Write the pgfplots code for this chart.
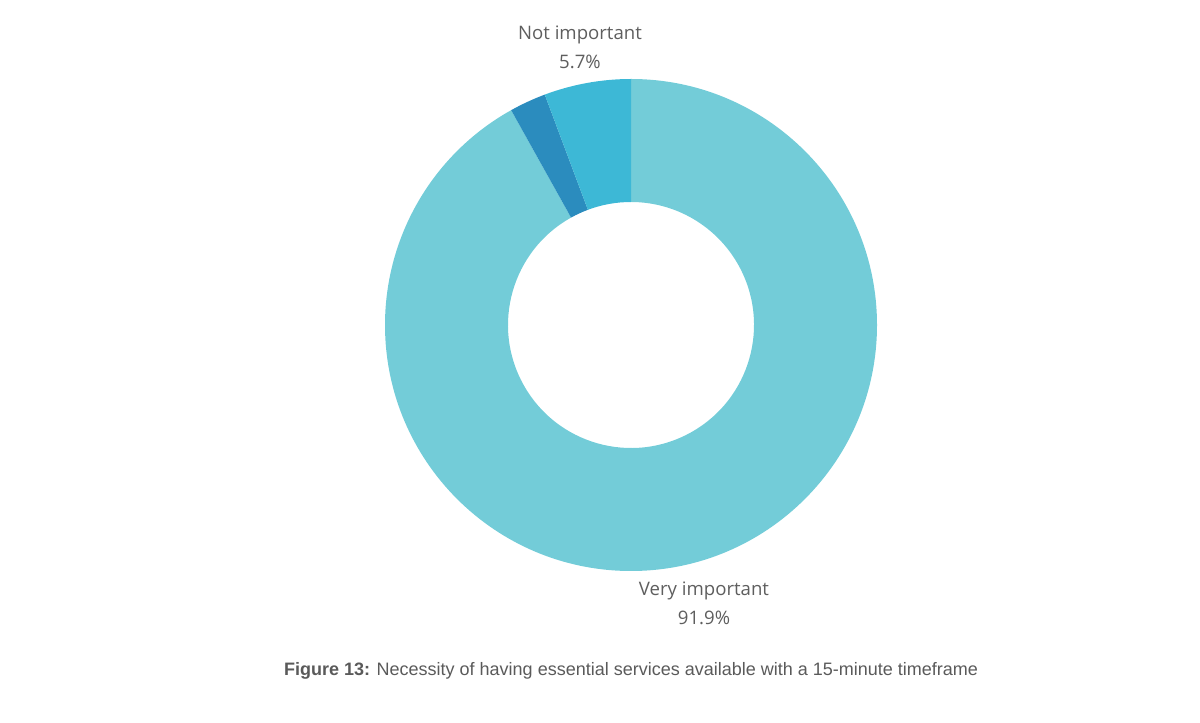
\documentclass[border=0pt]{standalone}
\usepackage{pgfplots}
\pgfplotsset{compat=1.18}
\usepackage{pgfplotstable}
\usepackage{fontspec}
\setmainfont{Open Sans}
\newfontfamily\capfont{Liberation Sans}
\definecolor{cVery}{HTML}{73CCD8}
\definecolor{cMid}{HTML}{2B8CBE}
\definecolor{cNot}{HTML}{3DB8D6}
\definecolor{txt}{HTML}{5E5E5E}
\definecolor{captxt}{HTML}{5A5A5A}
\pgfplotstableread[col sep=comma]{
label,value
Very important,91.9
Other,2.4
Not important,5.7
}\donutdata
\begin{document}
\begin{tikzpicture}
\begin{axis}[
  scale only axis, width=1200pt, height=723pt,
  xmin=0, xmax=1200, ymin=0, ymax=723,
  hide axis, clip=false]
\path (rel axis cs:0,0) rectangle (rel axis cs:1,1);
\pgfplotstablegetelem{0}{value}\of\donutdata \let\vA\pgfplotsretval
\pgfplotstablegetelem{1}{value}\of\donutdata \let\vB\pgfplotsretval
\pgfplotstablegetelem{2}{value}\of\donutdata \let\vC\pgfplotsretval
\pgfmathsetmacro\aA{90}
\pgfmathsetmacro\aB{90-3.6*\vA}
\pgfmathsetmacro\aC{\aB-3.6*\vB}
\pgfmathsetmacro\aD{\aC-3.6*\vC}
\fill[cVery,shift={(axis cs:631,398)}] (\aA:246pt) arc[start angle=\aA,end angle=\aB,radius=246pt] -- (\aB:123pt) arc[start angle=\aB,end angle=\aA,radius=123pt] -- cycle;
\fill[cMid,shift={(axis cs:631,398)}] (\aB:246pt) arc[start angle=\aB,end angle=\aC,radius=246pt] -- (\aC:123pt) arc[start angle=\aC,end angle=\aB,radius=123pt] -- cycle;
\fill[cNot,shift={(axis cs:631,398)}] (\aC:246pt) arc[start angle=\aC,end angle=\aD,radius=246pt] -- (\aD:123pt) arc[start angle=\aD,end angle=\aC,radius=123pt] -- cycle;
\node[txt,font=\fontsize{18.6}{29}\selectfont,align=center,anchor=center] at (axis cs:580,675.5) {Not important\\5.7\%};
\node[txt,font=\fontsize{18.6}{29}\selectfont,align=center,anchor=center] at (axis cs:704,119.5) {Very important\\91.9\%};
\node[captxt,font=\capfont\fontsize{18}{21}\selectfont,anchor=center] at (axis cs:631,52) {\textbf{Figure 13:} Necessity of having essential services available with a 15-minute timeframe};
\end{axis}
\end{tikzpicture}
\end{document}
